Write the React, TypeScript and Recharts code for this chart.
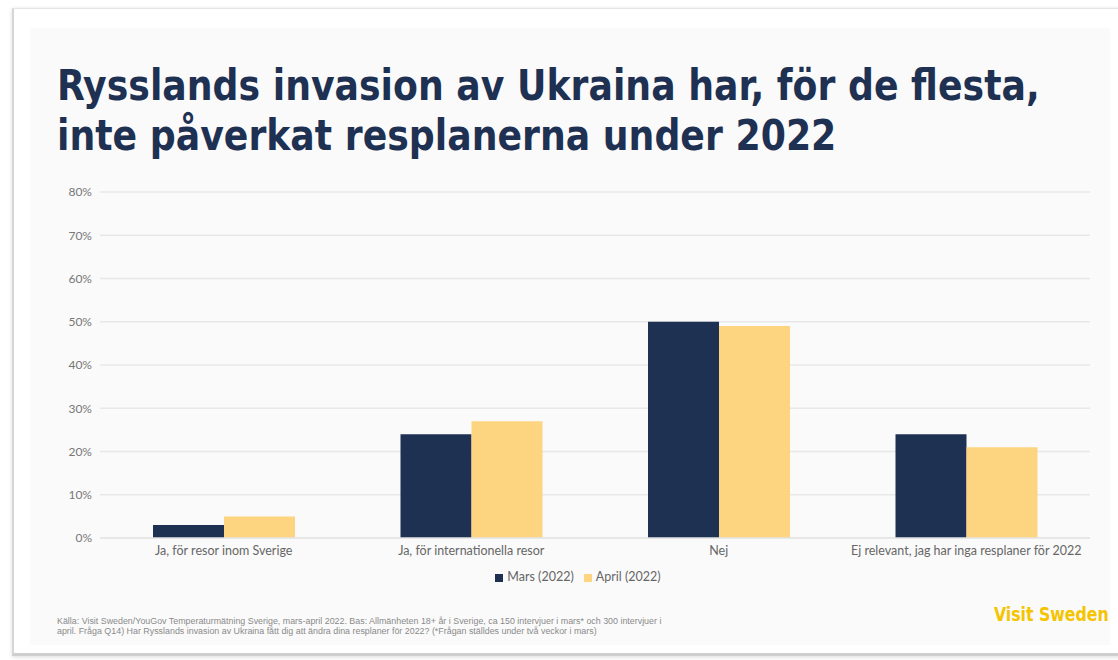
import { BarChart, Bar, XAxis, YAxis, CartesianGrid, Legend } from 'recharts';

const categories = [
  'Ja, för resor inom Sverige',
  'Ja, för internationella resor',
  'Nej',
  'Ej relevant, jag har inga resplaner för 2022',
];
const mars = [3, 24, 50, 24];
const april = [5, 27, 49, 21];
const yTicks = [0, 10, 20, 30, 40, 50, 60, 70, 80];
const seriesOrder = ['Mars (2022)', 'April (2022)'];

const data = categories.map((name, i) => ({
  name,
  'Mars (2022)': mars[i],
  'April (2022)': april[i],
}));

const NAVY = '#1f3152';
const SAND = '#fdd47f';

export default function App() {
  return (
    <div
      style={{
        position: 'absolute',
        left: 0,
        top: 0,
        width: 1118,
        height: 660,
        background: '#ffffff',
        overflow: 'hidden',
      }}
    >
      {/* card */}
      <div
        style={{
          position: 'absolute',
          left: 12,
          top: 8,
          width: 1120,
          height: 644,
          background: '#fff',
          borderLeft: '2px solid #d6d6d6',
          borderTop: '1px solid #e6e6e6',
          borderBottom: '3px solid #cfcfcf',
          boxShadow: '0 1px 4px rgba(0,0,0,0.15)',
        }}
      />
      <div
        style={{
          position: 'absolute',
          left: 30,
          top: 28,
          width: 1080,
          height: 617,
          background: '#fafafa',
        }}
      />
      <div
        style={{
          position: 'absolute',
          left: 57,
          top: 60,
          fontFamily: '"DejaVu Sans Condensed", sans-serif',
          fontWeight: 700,
          fontSize: 43,
          lineHeight: '50px',
          color: NAVY,
          whiteSpace: 'nowrap',
          transform: 'scaleX(0.937)',
          transformOrigin: 'left top',
        }}
      >
        Rysslands invasion av Ukraina har, för de flesta,
        <br />
        inte påverkat resplanerna under 2022
      </div>

      <div style={{ position: 'absolute', left: 40, top: 180 }}>
        <BarChart
          width={1060}
          height={420}
          data={data}
          margin={{ top: 12, right: 10, left: 0, bottom: 19 }}
          barGap={0}
          barSize={71}
        >
          <CartesianGrid vertical={false} stroke="#e8e8e8" strokeWidth={1.5} />
          <XAxis
            dataKey="name"
            axisLine={{ stroke: '#e4e4e4', strokeWidth: 1.5 }}
            tickLine={false}
            height={28}
            interval={0}
            tick={{ fill: '#666', fontSize: 12.5, fontFamily: 'Lato, sans-serif' }}
          />
          <YAxis
            domain={[0, 80]}
            ticks={yTicks}
            width={60}
            axisLine={false}
            tickLine={false}
            tickFormatter={(v) => `${v}%`}
            tick={{ fill: '#777', fontSize: 12, fontFamily: 'Lato, sans-serif' }}
          />
          <Legend
            iconType="square"
            iconSize={8}
            itemSorter={(item: any) => seriesOrder.indexOf(item.value)}
            wrapperStyle={{
              top: 389,
              paddingLeft: 18,
              fontSize: 12.5,
              fontFamily: 'Lato, sans-serif',
            }}
            formatter={(value) => <span style={{ color: '#666' }}>{value}</span>}
          />
          <Bar dataKey="Mars (2022)" fill={NAVY} isAnimationActive={false} />
          <Bar dataKey="April (2022)" fill={SAND} isAnimationActive={false} />
        </BarChart>
      </div>

      <div
        style={{
          position: 'absolute',
          left: 57,
          top: 616,
          fontFamily: '"Liberation Sans", sans-serif',
          fontSize: 8.9,
          lineHeight: '10px',
          color: '#8a8a8a',
          whiteSpace: 'nowrap',
        }}
      >
        Källa: Visit Sweden/YouGov Temperaturmätning Sverige, mars-april 2022. Bas: Allmänheten 18+ år i Sverige, ca 150 intervjuer i mars* och 300 intervjuer i
        <br />
        april. Fråga Q14) Har Rysslands invasion av Ukraina fått dig att ändra dina resplaner för 2022? (*Frågan ställdes under två veckor i mars)
      </div>

      <div
        style={{
          position: 'absolute',
          left: 994,
          top: 603,
          fontFamily: '"DejaVu Sans Condensed", sans-serif',
          fontWeight: 700,
          fontSize: 19,
          color: '#f5c400',
          whiteSpace: 'nowrap',
          transform: 'scaleX(0.92)',
          transformOrigin: 'left top',
        }}
      >
        Visit Sweden
      </div>
    </div>
  );
}
